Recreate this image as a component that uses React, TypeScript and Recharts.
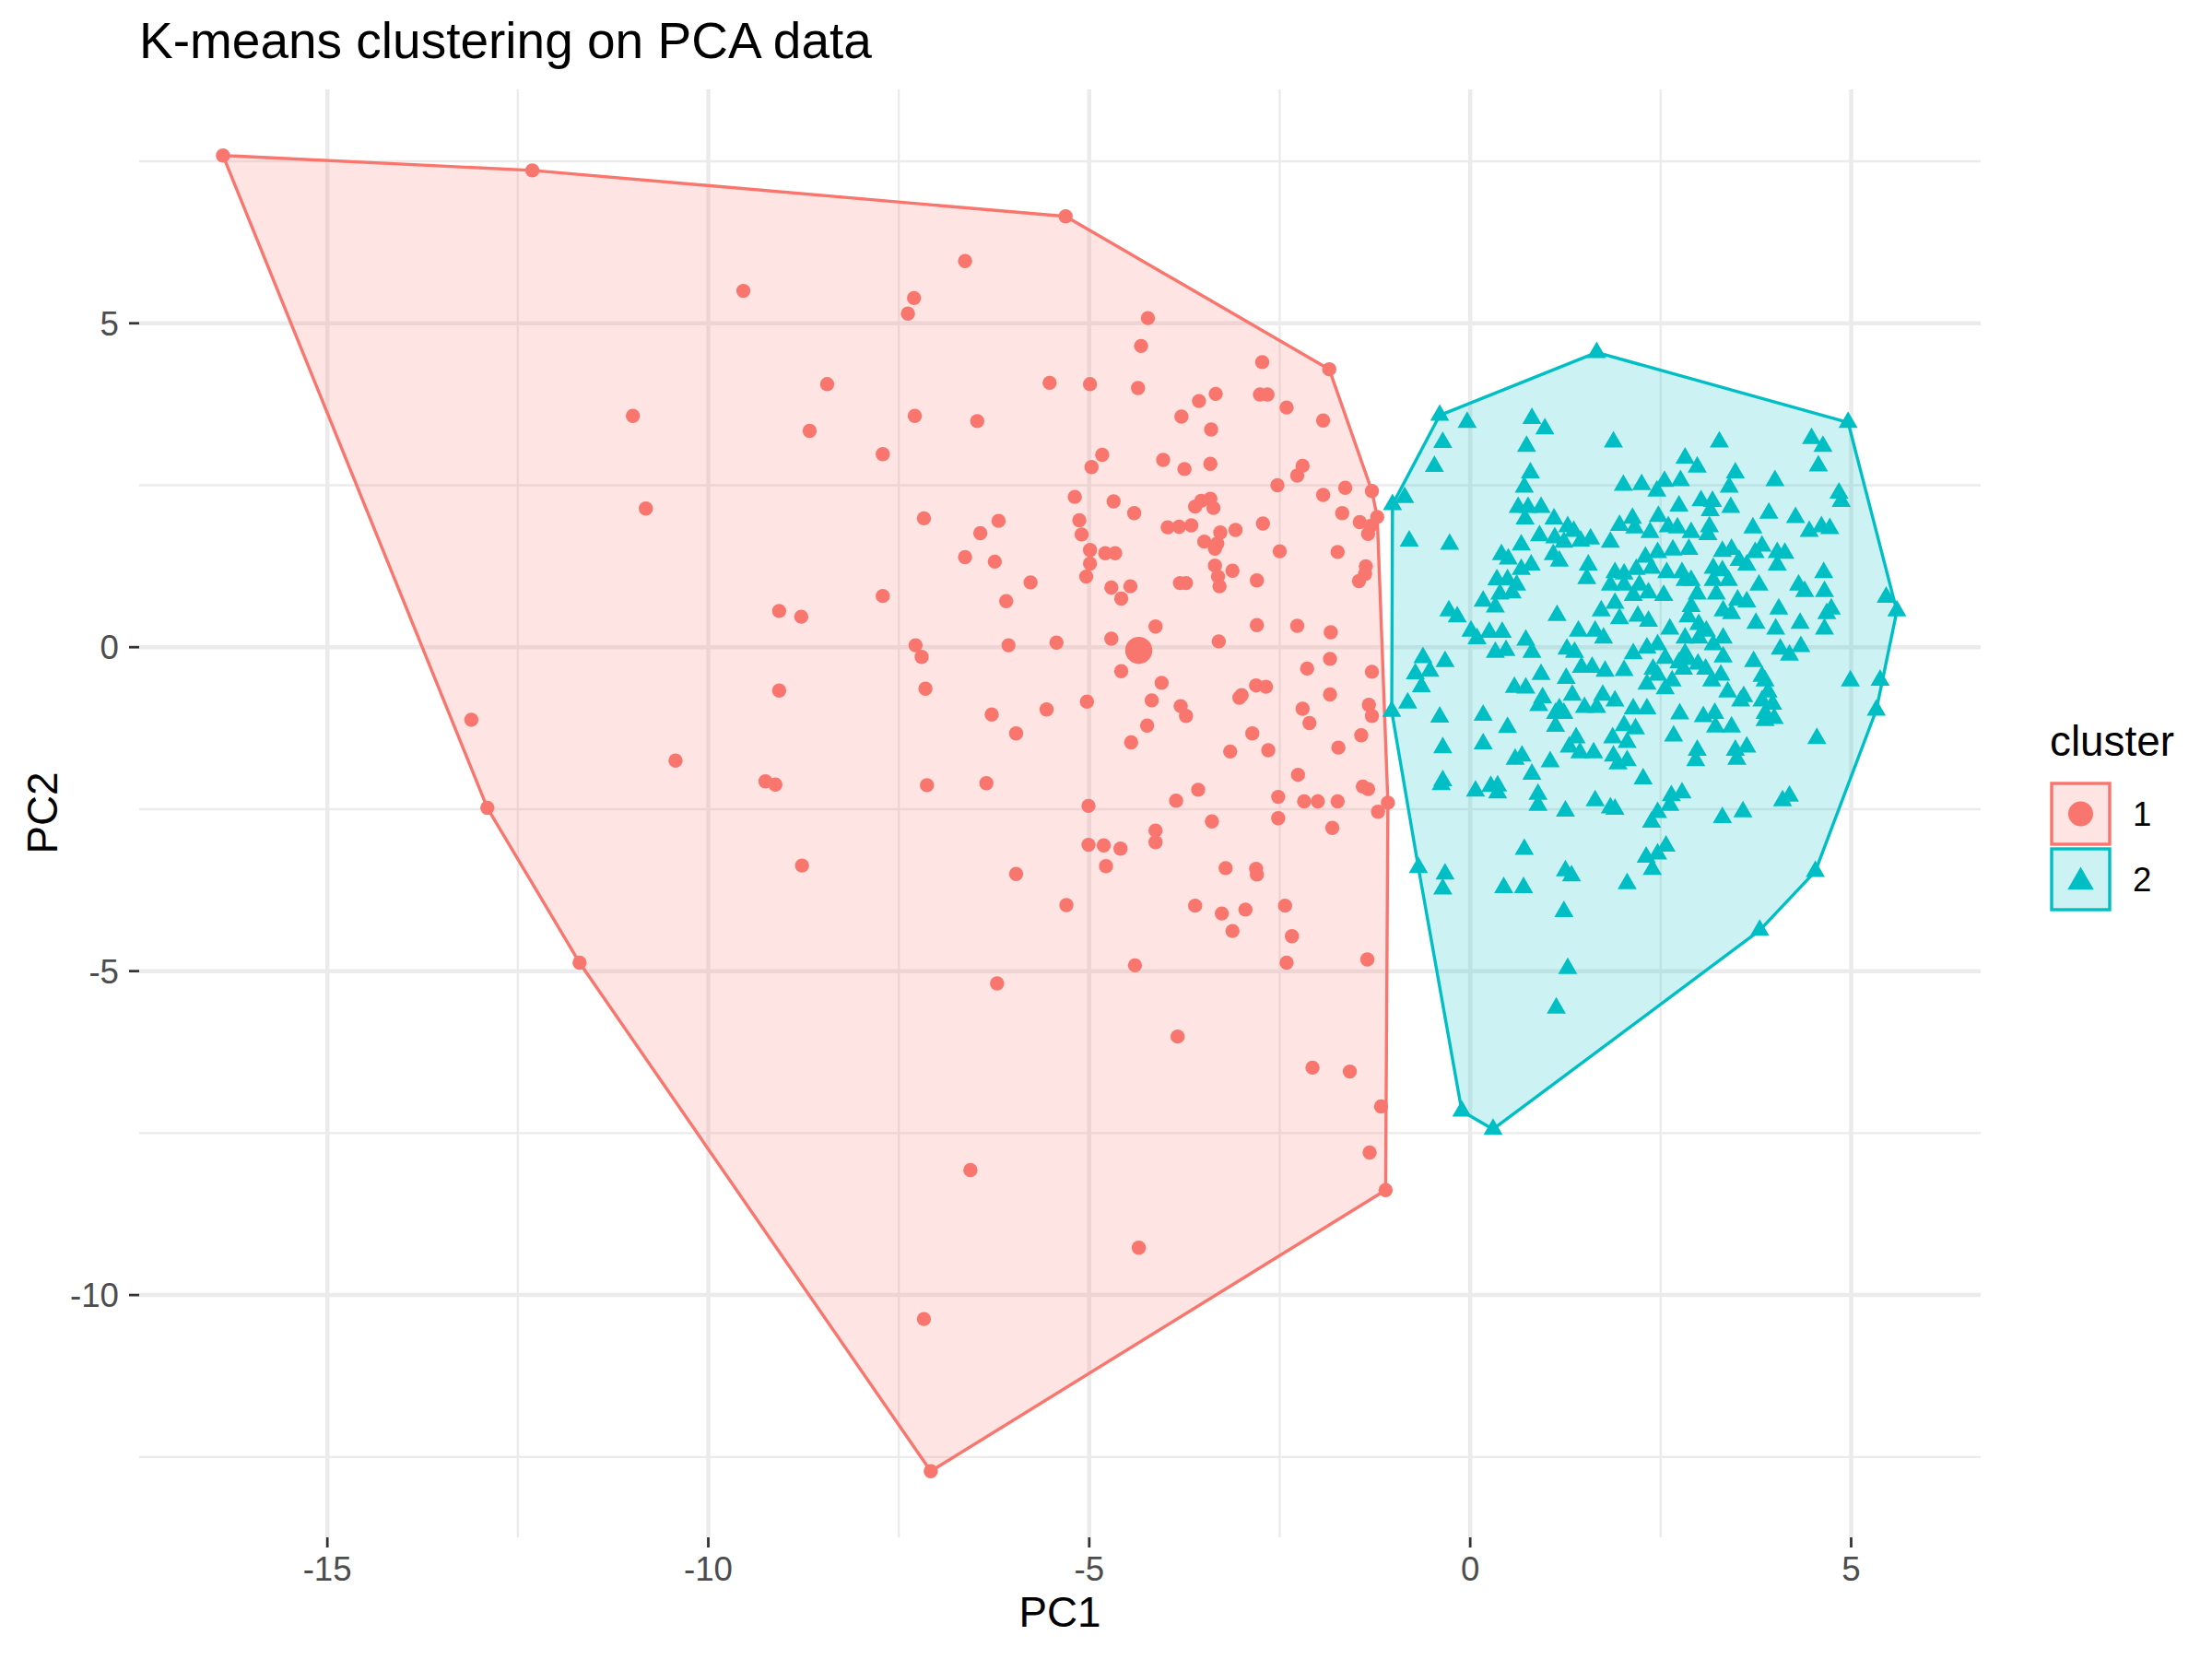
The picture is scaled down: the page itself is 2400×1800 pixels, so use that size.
import React from 'react';
import { ScatterChart, Scatter, XAxis, YAxis, ReferenceLine } from 'recharts';

// k-means result on the first two principal components
const PC1_TICKS = [-15, -10, -5, 0, 5];
const PC2_TICKS = [-10, -5, 0, 5];
const PC1_MINOR = [-12.5, -7.5, -2.5, 2.5];
const PC2_MINOR = [-12.5, -7.5, -2.5, 2.5, 7.5];
const PC1_DOMAIN: [number, number] = [-17.47, 6.7];
const PC2_DOMAIN: [number, number] = [-13.74, 8.61];

const CLUSTER_NAMES = ['1', '2'];

// cluster 1 (PC1, PC2)
const cluster1: [number, number][] = [
  [-16.37, 7.59], [-12.31, 7.36], [-5.31, 6.65], [-13.11, -1.12], [-12.9, -2.48], [-11.69, -4.87],
  [-7.08, -12.72], [-1.11, -8.38], [-6.21, -5.19], [-1.32, -7.8], [-6.56, -8.07], [-4.35, -9.27],
  [-7.17, -10.37],
  [-6.63, 5.96], [-9.54, 5.5], [-7.3, 5.39], [-7.38, 5.15], [-8.44, 4.06], [-10.99, 3.57], [-8.67, 3.34],
  [-7.29, 3.57], [-6.47, 3.49], [-7.71, 2.98], [-10.82, 2.14], [-7.17, 1.99], [-6.19, 1.95], [-6.43, 1.76],
  [-6.63, 1.39], [-6.24, 1.32], [-7.71, 0.79], [-9.07, 0.56], [-8.78, 0.47], [-6.09, 0.71], [-7.28, 0.03],
  [-6.06, 0.03],
  [-7.2, -0.15], [-9.07, -0.67], [-7.15, -0.64], [-6.28, -1.04], [-5.96, -1.33], [-10.43, -1.75],
  [-9.25, -2.07], [-9.12, -2.12], [-7.13, -2.13], [-6.35, -2.1], [-8.77, -3.37], [-5.96, -3.5],
  [-4.23, 5.08], [-4.32, 4.65], [-1.85, 4.29], [-2.73, 4.4], [-5.52, 4.08], [-4.99, 4.06], [-4.36, 4.0],
  [-3.56, 3.8], [-3.34, 3.91], [-2.76, 3.9], [-2.66, 3.9], [-2.41, 3.7], [-1.93, 3.5], [-3.79, 3.56],
  [-3.4, 3.36], [-4.83, 2.97], [-4.97, 2.78], [-4.03, 2.89], [-3.75, 2.75], [-3.41, 2.83], [-2.2, 2.8],
  [-2.27, 2.65], [-2.53, 2.5], [-1.93, 2.35], [-1.64, 2.46], [-1.29, 2.41], [-5.19, 2.32], [-4.68, 2.25],
  [-4.41, 2.07], [-3.61, 2.17], [-3.53, 2.26], [-3.41, 2.29], [-3.37, 2.15], [-1.68, 2.07], [-1.22, 2.01],
  [-1.45, 1.93], [-1.31, 1.87], [-1.34, 1.75], [-5.13, 1.96], [-5.1, 1.74], [-3.97, 1.85], [-3.82, 1.86],
  [-3.66, 1.88], [-3.28, 1.77], [-3.08, 1.81], [-2.72, 1.91], [-3.49, 1.63], [-3.32, 1.6], [-3.35, 1.52],
  [-4.99, 1.5], [-4.79, 1.45], [-4.66, 1.45], [-4.99, 1.29], [-2.5, 1.48], [-1.74, 1.47], [-1.37, 1.25],
  [-1.38, 1.13], [-1.46, 1.02], [-3.35, 1.26], [-3.12, 1.18], [-3.31, 1.09], [-3.29, 0.94], [-2.8, 1.03],
  [-5.77, 1.0], [-5.04, 1.09], [-4.71, 0.92], [-4.46, 0.94], [-4.58, 0.75], [-3.81, 0.99], [-3.73, 0.99],
  [-4.13, 0.32], [-2.8, 0.34], [-2.27, 0.33], [-1.83, 0.23], [-5.43, 0.07], [-4.71, 0.13], [-3.3, 0.09],
  [-1.84, -0.18], [-2.14, -0.33], [-1.29, -0.38], [-4.58, -0.37], [-4.05, -0.55], [-2.81, -0.59],
  [-2.68, -0.61], [-3.0, -0.74], [-3.03, -0.78], [-1.84, -0.73], [-5.03, -0.84], [-4.18, -0.82],
  [-3.8, -0.91], [-5.56, -0.96], [-2.2, -0.95], [-1.33, -0.89],
  [-3.73, -1.06], [-2.11, -1.17], [-1.29, -1.06], [-4.24, -1.21], [-4.45, -1.47], [-2.86, -1.33],
  [-3.15, -1.61], [-2.65, -1.59], [-1.43, -1.36], [-1.73, -1.55], [-2.26, -1.97], [-1.41, -2.15],
  [-1.34, -2.19], [-2.52, -2.31], [-2.18, -2.38], [-2.0, -2.38], [-1.74, -2.38], [-1.08, -2.4],
  [-1.21, -2.54], [-3.57, -2.2], [-3.86, -2.37], [-5.01, -2.45], [-2.52, -2.64], [-3.39, -2.69],
  [-1.81, -2.79], [-4.13, -2.83], [-4.13, -3.01], [-5.01, -3.05], [-4.81, -3.06], [-4.59, -3.11],
  [-4.78, -3.38], [-3.21, -3.41], [-2.81, -3.42], [-2.8, -3.51], [-5.3, -3.98], [-3.61, -3.99],
  [-3.26, -4.11], [-2.95, -4.05], [-3.12, -4.38], [-2.43, -3.99], [-2.34, -4.46], [-2.41, -4.87],
  [-1.35, -4.82], [-4.4, -4.91], [-3.84, -6.01], [-2.07, -6.49], [-1.58, -6.55], [-1.17, -7.09],
];

// cluster 2 (PC1, PC2)
const cluster2: [number, number][] = [
  [1.66, 4.55],
  [-0.4, 3.58], [-0.04, 3.47], [-0.36, 3.16], [-0.47, 2.79], [-1.02, 2.2], [-0.86, 2.31], [-0.8, 1.64],
  [-0.27, 1.59], [0.81, 3.53], [0.98, 3.37], [0.74, 3.1], [0.79, 2.69], [0.71, 2.47], [1.88, 3.17],
  [0.63, 2.16], [0.76, 2.16], [0.93, 2.16], [0.72, 1.98], [1.1, 1.98], [1.28, 1.86], [1.36, 1.79],
  [0.91, 1.72], [1.11, 1.69], [1.23, 1.62], [1.45, 1.64], [1.58, 1.67], [1.84, 1.62], [1.96, 1.88],
  [2.01, 2.5], [2.25, 2.51], [2.13, 1.99], [2.16, 1.84], [2.36, 1.77], [0.67, 1.58], [0.41, 1.43],
  [0.5, 1.36], [1.09, 1.43], [1.17, 1.33], [0.67, 1.2], [0.8, 1.27], [1.55, 1.27], [1.53, 1.06],
  [0.35, 1.04], [0.49, 1.04], [0.61, 0.96], [0.39, 0.82], [0.55, 0.84], [0.17, 0.71], [0.33, 0.62],
  [1.9, 1.15], [2.02, 1.13], [2.18, 1.2], [2.3, 1.39], [1.84, 0.96], [2.02, 0.96], [2.22, 0.96],
  [2.34, 0.84], [2.14, 0.8], [1.9, 0.68], [1.72, 0.56], [1.14, 0.49], [-0.28, 0.56], [-0.17, 0.47],
  [0.01, 0.25], [0.25, 0.23], [0.42, 0.23], [1.42, 0.25], [1.64, 0.25], [1.96, 0.44], [2.2, 0.48],
  [2.34, 0.4], [0.73, 0.11], [0.09, 0.13],
  [4.96, 3.47], [3.27, 3.17], [4.48, 3.22], [4.63, 3.1], [4.57, 2.8], [2.82, 2.92], [2.98, 2.78],
  [3.48, 2.69], [4.0, 2.57], [3.4, 2.47], [2.76, 2.57], [2.55, 2.56], [2.45, 2.41], [4.84, 2.38],
  [4.87, 2.25], [3.03, 2.26], [3.18, 2.25], [2.74, 2.18], [3.42, 2.16], [3.92, 2.07], [3.15, 2.11],
  [4.27, 2.0], [2.47, 2.02], [3.71, 1.84], [4.45, 1.79], [4.61, 1.86], [4.72, 1.83], [2.6, 1.86],
  [2.72, 1.84], [2.9, 1.77], [3.14, 1.86], [3.12, 1.74], [3.83, 1.56], [3.31, 1.48], [3.43, 1.51],
  [3.74, 1.46], [2.66, 1.5], [2.87, 1.51], [2.46, 1.46], [4.03, 1.46], [4.13, 1.45], [3.53, 1.34],
  [3.63, 1.27], [4.03, 1.27], [3.19, 1.22], [3.31, 1.18], [4.64, 1.15], [2.78, 1.15], [2.58, 1.15],
  [2.38, 1.22], [4.31, 0.96], [4.39, 0.86], [4.65, 0.86], [3.79, 0.96], [2.82, 1.03], [2.9, 1.03],
  [3.19, 1.03], [3.39, 1.03], [2.54, 0.8], [2.98, 0.82], [3.23, 0.82], [3.51, 0.73], [3.63, 0.7],
  [5.46, 0.77], [5.6, 0.56], [4.05, 0.59], [4.74, 0.59], [4.68, 0.52], [2.9, 0.63], [2.86, 0.47],
  [3.32, 0.56], [3.43, 0.52], [2.62, 0.28], [3.75, 0.37], [4.01, 0.28], [4.33, 0.37], [4.65, 0.28],
  [3.32, 0.14], [3.1, 0.25], [3.0, 0.35], [2.82, 0.14],
  [-0.62, -0.16], [-0.33, -0.22], [-0.72, -0.41], [-0.53, -0.37], [-0.64, -0.61], [-0.82, -0.86],
  [-1.03, -0.99], [-0.4, -1.08], [0.17, -1.05], [0.49, -1.24], [-0.36, -1.55], [0.17, -1.49],
  [-0.36, -2.06], [-0.38, -2.12], [0.07, -2.22], [0.27, -2.15], [0.36, -2.14], [0.36, -2.25],
  [0.59, -1.73], [0.68, -1.68], [0.81, -1.96], [0.89, -2.27], [0.89, -2.44], [1.05, -1.77],
  [1.25, -2.53], [1.64, -2.37], [1.84, -2.48], [1.9, -2.5], [2.27, -2.03], [2.38, -2.7], [0.71, -3.12],
  [-0.68, -3.4], [-0.33, -3.5], [-0.36, -3.73], [0.44, -3.71], [0.7, -3.71], [1.25, -3.45],
  [1.33, -3.53], [2.06, -3.65], [2.31, -3.24], [2.39, -3.43], [1.23, -4.08], [0.58, -0.62],
  [0.73, -0.63], [0.93, -0.42], [0.95, -0.78], [0.9, -0.9], [1.17, -0.95], [1.23, -1.02], [1.12, -1.22],
  [1.26, -0.48], [1.34, -0.74], [1.3, -1.54], [1.39, -1.4], [1.44, -1.63], [1.62, -1.63], [1.5, -0.93],
  [1.66, -0.93], [1.74, -0.74], [1.46, -0.31], [1.6, -0.31], [1.77, -0.37], [1.9, -0.83], [2.02, -0.36],
  [2.14, -0.95], [2.32, -0.95], [2.17, -1.26], [2.02, -1.21], [1.87, -1.4], [2.06, -1.47], [1.94, -1.8],
  [2.06, -1.75], [1.88, -1.68], [2.32, -0.57], [2.4, -0.34], [2.14, -0.1], [2.32, -0.01], [1.27, -0.03],
  [1.37, -0.08], [1.75, 0.14], [0.81, -0.08], [0.33, -0.08], [0.47, -0.05], [1.12, -1.02],
  [5.38, -0.51], [4.99, -0.52], [5.33, -0.97], [4.55, -1.41], [4.53, -3.46], [4.1, -2.37], [4.19, -2.3],
  [3.58, -2.54], [3.31, -2.63], [3.72, -0.22], [4.07, -0.03], [4.19, -0.12], [4.34, 0.01], [3.83, -0.45],
  [3.87, -0.52], [3.91, -0.69], [3.83, -0.83], [3.97, -0.88], [3.87, -1.02], [3.99, -1.1], [3.87, -1.13],
  [3.59, -0.76], [3.55, -0.83], [3.38, -0.69], [3.29, -0.43], [3.17, -0.52], [3.21, -1.02], [3.06, -1.07],
  [3.22, -1.23], [3.43, -1.23], [2.75, -1.03], [2.67, -1.37], [2.98, -1.59], [2.96, -1.75], [3.48, -1.59],
  [3.63, -1.54], [3.5, -1.73], [3.32, -0.15], [3.19, 0.04], [3.09, -0.34], [2.99, -0.26], [2.86, -0.19],
  [2.8, -0.34], [3.0, 0.14], [2.56, -0.17], [2.46, 0.04], [2.65, -0.52], [2.56, -0.64], [2.46, -0.43],
  [2.64, -2.29], [2.78, -2.25], [2.62, -2.44], [2.46, -2.55], [2.57, -3.07], [2.46, -3.19], [2.74, -0.24],
  [2.82, -0.1],
  [1.28, -4.96], [1.13, -5.57], [3.8, -4.37], [-0.11, -7.16], [0.3, -7.44],
];

// centre of cluster 1 (the one for cluster 2 is lost in its crowd)
const center1: [number, number][] = [[-4.35, -0.05]];

const RED = '#F8766D';
const TEAL = '#00BFC4';
const FONT = '"Liberation Sans", Arial, Helvetica, sans-serif';

const toRows = (pts: [number, number][]) => pts.map(([x, y]) => ({ x, y }));

// Andrew's monotone chain, like chull() in R
function convexHull(pts: [number, number][]) {
  const p = [...pts].sort((a, b) => a[0] - b[0] || a[1] - b[1]);
  const cross = (o: number[], a: number[], b: number[]) =>
    (a[0] - o[0]) * (b[1] - o[1]) - (a[1] - o[1]) * (b[0] - o[0]);
  const lower: [number, number][] = [];
  for (const q of p) {
    while (lower.length >= 2 && cross(lower[lower.length - 2], lower[lower.length - 1], q) <= 0) lower.pop();
    lower.push(q);
  }
  const upper: [number, number][] = [];
  for (let i = p.length - 1; i >= 0; i--) {
    const q = p[i];
    while (upper.length >= 2 && cross(upper[upper.length - 2], upper[upper.length - 1], q) <= 0) upper.pop();
    upper.push(q);
  }
  lower.pop();
  upper.pop();
  const h = lower.concat(upper);
  return [...h, h[0]];
}

const hullShape = (color: string) => (props: any) => {
  const pts = props.points || [];
  if (!pts.length) return <g />;
  const d = pts.map((p: any, i: number) => `${i ? 'L' : 'M'}${p.x},${p.y}`).join(' ') + ' Z';
  return (
    <path d={d} fill={color} fillOpacity={0.2} stroke={color} strokeWidth={3.4} strokeLinejoin="round" />
  );
};

const triPath = (cx: number, cy: number, s: number) =>
  `M${cx},${cy - s} L${cx + 0.866 * s},${cy + 0.5 * s} L${cx - 0.866 * s},${cy + 0.5 * s} Z`;

const dot = (r: number) => (p: any) => <circle cx={p.cx} cy={p.cy} r={r} fill={RED} />;
const tri = (s: number) => (p: any) => <path d={triPath(p.cx, p.cy, s)} fill={TEAL} />;
const nothing = () => <g />;

const tickStyle = { fill: '#4D4D4D', fontSize: 36.7, fontFamily: FONT };
const tickLine = { stroke: '#333333', strokeWidth: 2.8 };

function Overlay() {
  return (
    <svg
      width={2400}
      height={1800}
      style={{ position: 'absolute', left: 0, top: 0, pointerEvents: 'none' }}
      fontFamily={FONT}
    >
      <text x={151} y={63} fontSize={55} fill="#000">K-means clustering on PCA data</text>
      <text x={1150} y={1765} fontSize={45.8} textAnchor="middle" fill="#000">PC1</text>
      <text transform="translate(62, 882) rotate(-90)" fontSize={45.8} textAnchor="middle" fill="#000">PC2</text>
      <text x={2224} y={820} fontSize={45.8} fill="#000">cluster</text>
      {CLUSTER_NAMES.map((name, i) => {
        const top = 850 + i * 71;
        const color = i === 0 ? RED : TEAL;
        const cy = top + 33;
        return (
          <g key={name}>
            <rect x={2226} y={top} width={63} height={66} fill={color} fillOpacity={0.2} stroke={color} strokeWidth={3.4} />
            {i === 0 ? (
              <circle cx={2257.5} cy={cy} r={13.5} fill={color} />
            ) : (
              <path d={triPath(2257.5, cy + 3, 16.5)} fill={color} />
            )}
            <text x={2314} y={cy} fontSize={36.7} fill="#000" dominantBaseline="central">{name}</text>
          </g>
        );
      })}
    </svg>
  );
}

export default function App() {
  return (
    <div style={{ position: 'absolute', left: 0, top: 0, width: 2400, height: 1800, background: '#fff' }}>
      <ScatterChart width={2400} height={1800} margin={{ top: 97, right: 251, bottom: 0, left: 0 }}>
        <XAxis
          type="number"
          dataKey="x"
          domain={PC1_DOMAIN}
          ticks={PC1_TICKS}
          interval={0}
          allowDataOverflow
          axisLine={false}
          tickLine={tickLine}
          tickSize={11}
          tickMargin={10}
          tick={tickStyle}
          height={132}
        />
        <YAxis
          type="number"
          dataKey="y"
          domain={PC2_DOMAIN}
          ticks={PC2_TICKS}
          interval={0}
          allowDataOverflow
          axisLine={false}
          tickLine={tickLine}
          tickSize={11}
          tickMargin={11}
          tick={tickStyle}
          width={151}
        />
        {PC1_MINOR.map((v) => (
          <ReferenceLine key={`xm${v}`} x={v} stroke="#EBEBEB" strokeWidth={2.4} />
        ))}
        {PC2_MINOR.map((v) => (
          <ReferenceLine key={`ym${v}`} y={v} stroke="#EBEBEB" strokeWidth={2.4} />
        ))}
        {PC1_TICKS.map((v) => (
          <ReferenceLine key={`x${v}`} x={v} stroke="#EBEBEB" strokeWidth={4.5} />
        ))}
        {PC2_TICKS.map((v) => (
          <ReferenceLine key={`y${v}`} y={v} stroke="#EBEBEB" strokeWidth={4.5} />
        ))}
        <Scatter
          data={toRows(convexHull(cluster1))}
          line={hullShape(RED)}
          shape={nothing}
          isAnimationActive={false}
        />
        <Scatter
          data={toRows(convexHull(cluster2))}
          line={hullShape(TEAL)}
          shape={nothing}
          isAnimationActive={false}
        />
        <Scatter data={toRows(cluster1)} shape={dot(7.7)} isAnimationActive={false} />
        <Scatter data={toRows(cluster2)} shape={tri(12)} isAnimationActive={false} />
        <Scatter data={toRows(center1)} shape={dot(14.7)} isAnimationActive={false} />
      </ScatterChart>
      <Overlay />
    </div>
  );
}
